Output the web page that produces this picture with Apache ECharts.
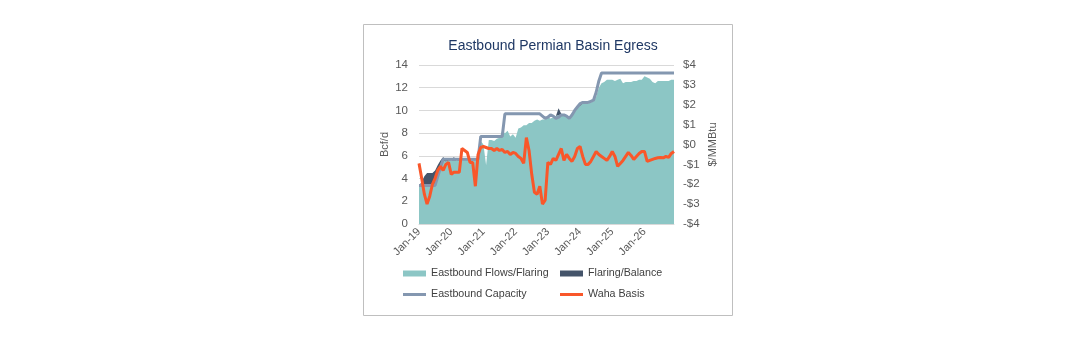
<!DOCTYPE html>
<html><head><meta charset="utf-8">
<script src="https://cdn.jsdelivr.net/npm/echarts@6/dist/echarts.min.js"></script>
<style>html,body{margin:0;padding:0;background:#fff}#c{width:1087px;height:343px}</style>
</head><body><div id="c"></div>
<script>
const years = ['19','20','21','22','23','24','25','26'];
const monthNames = ['Jan','Feb','Mar','Apr','May','Jun','Jul','Aug','Sep','Oct','Nov','Dec'];
const categories = [];
years.forEach(y => monthNames.forEach(m => categories.push(m + '-' + y)));

const leftTicks = { min: 0, max: 14, interval: 2 };
const rightTicks = { min: -4, max: 4, interval: 1 };

const eastboundFlows = [
  3.4,3.4,3.4,3.4,3.4,3.4,3.5,4.2,5.0,5.6,5.5,5.6,
  5.6,5.6,5.6,5.6,5.6,5.7,5.7,5.7,5.8,5.7,5.8,7.3,
  7.0,5.2,7.4,7.4,7.3,7.5,7.6,8.2,8.0,8.2,7.7,7.9,
  7.6,8.4,8.5,8.7,8.7,8.9,8.9,9.1,9.2,9.1,9.2,9.2,
  9.4,9.3,9.4,9.5,9.6,9.6,9.5,9.5,9.4,9.8,10.0,10.3,
  10.4,10.6,10.7,10.6,10.7,10.8,11.2,12.0,12.4,12.5,12.7,12.7,
  12.7,12.6,12.7,12.8,12.4,12.5,12.5,12.5,12.6,12.6,12.7,12.7,
  13.0,12.9,12.8,12.5,12.4,12.6,12.6,12.6,12.6,12.6,12.7,12.7
];
const flaringBalance = [
  0,0.3,0.8,1.1,1.1,1.1,1.2,1.0,0.6,0.3,0.1,0.1,
  0,0.3,0,0.1,0,0,0,0,0,0,0,0,
  0,0,0,0,0,0,0,0,0,0,0,0,
  0,0,0,0,0,0,0,0,0,0,0,0,
  0,0,0,0,0.6,0.1,0,0,0,0,0,0,
  0.15,0,0,0,0,0,0,0,0,0,0,0,
  0,0,0,0,0,0,0,0,0,0,0,0,
  0,0,0,0,0,0,0,0,0,0,0,0
];
const eastboundCapacity = [
  3.4,3.4,3.4,3.4,3.4,3.4,3.4,4.2,5.0,5.7,5.7,5.7,
  5.7,5.7,5.7,5.7,5.7,5.7,5.7,5.7,5.7,5.7,5.7,7.7,
  7.7,7.7,7.7,7.7,7.7,7.7,7.7,7.7,9.7,9.7,9.7,9.7,
  9.7,9.7,9.7,9.7,9.7,9.7,9.7,9.7,9.7,9.7,9.5,9.3,
  9.4,9.6,9.5,9.3,9.4,9.6,9.6,9.5,9.3,9.6,10.0,10.3,
  10.6,10.7,10.7,10.7,10.8,10.9,11.6,12.6,13.3,13.3,13.3,13.3,
  13.3,13.3,13.3,13.3,13.3,13.3,13.3,13.3,13.3,13.3,13.3,13.3,
  13.3,13.3,13.3,13.3,13.3,13.3,13.3,13.3,13.3,13.3,13.3,13.3
];
const wahaBasis = [
  -0.95,-1.7,-2.5,-3.0,-2.6,-2.0,-1.7,-1.3,-1.1,-1.3,-1.0,-0.9,
  -1.5,-1.4,-1.4,-1.4,-0.2,-0.3,-0.4,-0.9,-0.9,-2.1,-0.5,-0.15,
  -0.1,-0.15,-0.2,-0.2,-0.3,-0.2,-0.3,-0.25,-0.4,-0.35,-0.5,-0.4,
  -0.45,-0.6,-0.7,-0.95,0.35,-0.3,-1.5,-2.4,-2.5,-2.1,-3.0,-2.8,
  -0.9,-1.0,-0.7,-0.8,-0.5,-0.2,-0.8,-0.5,-0.7,-0.85,-0.6,-0.2,
  -0.1,-0.6,-1.0,-1.0,-0.85,-0.6,-0.35,-0.5,-0.6,-0.7,-0.8,-0.6,
  -0.35,-0.6,-1.1,-0.95,-0.8,-0.6,-0.4,-0.55,-0.75,-0.6,-0.45,-0.35,
  -0.35,-0.85,-0.8,-0.75,-0.7,-0.67,-0.65,-0.67,-0.6,-0.65,-0.45,-0.35
];

const FONT = '"Liberation Sans", Arial, sans-serif';
const GRAY = '#595959';
const C_TEAL = '#8CC6C5', C_DARK = '#44546A', C_CAP = '#8497B0', C_WAHA = '#F9572A';

const chart = echarts.init(document.getElementById('c'), null, { renderer: 'canvas' });

function leg(name, left, top, h) {
  return {
    data: [{ name: name, icon: 'rect' }],
    left: left, top: top, itemWidth: 23, itemHeight: h, padding: 0,
    textStyle: { fontFamily: FONT, fontSize: 10.7, color: '#404040' },
    selectedMode: false
  };
}

chart.setOption({
  animation: false,
  backgroundColor: '#fff',
  textStyle: { fontFamily: FONT },
  title: {
    text: 'Eastbound Permian Basin Egress',
    left: 548, top: 34, textAlign: 'center',
    textStyle: { fontFamily: FONT, fontSize: 14, fontWeight: 'normal', color: '#1F3864' }
  },
  graphic: [{
    type: 'rect', silent: true,
    shape: { x: 363.5, y: 24.5, width: 369, height: 291 },
    style: { fill: 'none', stroke: '#BFBFBF', lineWidth: 1 }
  }],
  legend: [
    leg('Eastbound Flows/Flaring', 403, 268, 6),
    leg('Flaring/Balance', 560, 268, 6),
    leg('Eastbound Capacity', 403, 289, 3),
    leg('Waha Basis', 560, 289, 3)
  ],
  grid: { left: 419, right: 413, top: 65, bottom: 119, containLabel: false },
  xAxis: {
    type: 'category', data: categories, boundaryGap: false,
    axisLine: { show: true, lineStyle: { color: '#D9D9D9' } },
    axisTick: { show: false },
    axisLabel: { interval: 11, rotate: 45, fontSize: 11, color: GRAY, margin: 6, fontFamily: FONT },
    splitLine: { show: false }
  },
  yAxis: [{
    type: 'value', min: leftTicks.min, max: leftTicks.max, interval: leftTicks.interval,
    name: 'Bcf/d', nameLocation: 'middle', nameGap: 29, nameRotate: 90,
    nameTextStyle: { fontSize: 11, color: GRAY, fontFamily: FONT },
    axisLabel: { fontSize: 11.5, color: GRAY, margin: 11, fontFamily: FONT },
    axisLine: { show: false }, axisTick: { show: false },
    splitLine: { lineStyle: { color: '#D9D9D9', width: 1 } }
  }, {
    type: 'value', min: rightTicks.min, max: rightTicks.max, interval: rightTicks.interval,
    name: '$/MMBtu', nameLocation: 'middle', nameGap: 33, nameRotate: 90,
    nameTextStyle: { fontSize: 11, color: GRAY, fontFamily: FONT },
    axisLabel: { fontSize: 11.5, color: GRAY, margin: 9, fontFamily: FONT,
      formatter: v => (v < 0 ? '-$' + Math.abs(v) : '$' + v) },
    axisLine: { show: false }, axisTick: { show: false },
    splitLine: { show: false }
  }],
  series: [{
    name: 'Eastbound Flows/Flaring', type: 'line', stack: 'egress', data: eastboundFlows,
    symbol: 'none', lineStyle: { width: 0 }, itemStyle: { color: C_TEAL },
    areaStyle: { color: C_TEAL, opacity: 1 }, z: 1
  }, {
    name: 'Flaring/Balance', type: 'line', stack: 'egress', data: flaringBalance,
    symbol: 'none', lineStyle: { width: 0 }, itemStyle: { color: C_DARK },
    areaStyle: { color: C_DARK, opacity: 1 }, z: 1
  }, {
    name: 'Eastbound Capacity', type: 'line', data: eastboundCapacity,
    symbol: 'none', lineStyle: { width: 3, color: C_CAP }, itemStyle: { color: C_CAP }, z: 3
  }, {
    name: 'Waha Basis', type: 'line', yAxisIndex: 1, data: wahaBasis,
    symbol: 'none', lineStyle: { width: 3, color: C_WAHA }, itemStyle: { color: C_WAHA }, z: 4
  }]
});
</script></body></html>
